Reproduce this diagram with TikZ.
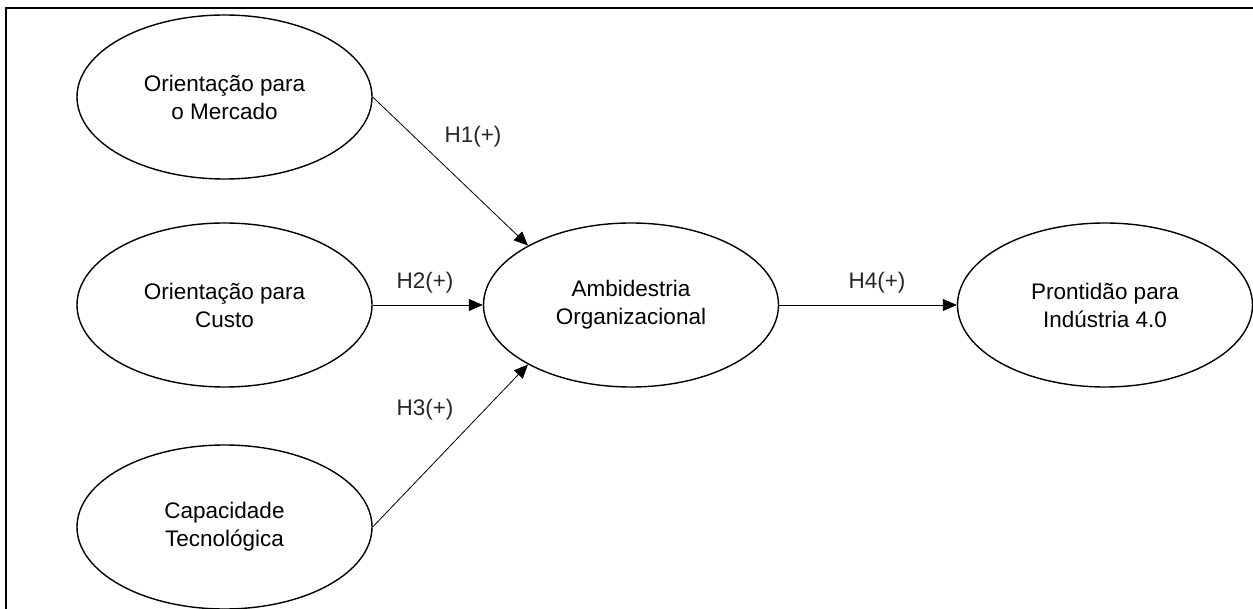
\documentclass[tikz,border=0pt]{standalone}
\usepackage{fontspec}
\setmainfont{Liberation Sans}
\usetikzlibrary{arrows.meta,shapes.geometric}
\tikzset{
  construct/.style={draw, line width=1.4pt, ellipse, minimum width=295pt, minimum height=164pt, inner sep=0pt, align=center, font=\fontsize{22.5}{28}\selectfont},
  hyp/.style={line width=0.8pt, -{Triangle[length=14pt,width=12pt]}},
  hlabel/.style={font=\fontsize{22.5}{28}\selectfont, text=black!85},
  frameline/.style={line width=1.6pt}
}
\begin{document}
\begin{tikzpicture}[x=1pt,y=-1pt]
\useasboundingbox (0,0) rectangle (1253,609);
\coordinate (fa) at (6,640);
\coordinate (fb) at (6,8);
\coordinate (fc) at (1260,8);
\draw[frameline] (fa) -- (fb) -- (fc);
\node[construct] (om) at (224.5,97) {Orientação para\\o Mercado};
\node[construct] (oc) at (224.5,305) {Orientação para\\Custo};
\node[construct] (ct) at (224.5,527) {Capacidade\\Tecnológica};
\node[construct] (ao) at (631,305) {Ambidestria\\Organizacional};
\node[construct] (pi) at (1105,305) {Prontidão para\\Indústria 4.0};
\draw[hyp] (om.east) -- (ao.150);
\draw[hyp] (oc.east) -- (ao.west);
\draw[hyp] (ct.east) -- (ao.210);
\draw[hyp] (ao.east) -- (pi.west);
\node[hlabel] (l1) at (473,137) {H1(+)};
\node[hlabel] (l2) at (425,283) {H2(+)};
\node[hlabel] (l3) at (425,410) {H3(+)};
\node[hlabel] (l4) at (877,283) {H4(+)};
\end{tikzpicture}
\end{document}
